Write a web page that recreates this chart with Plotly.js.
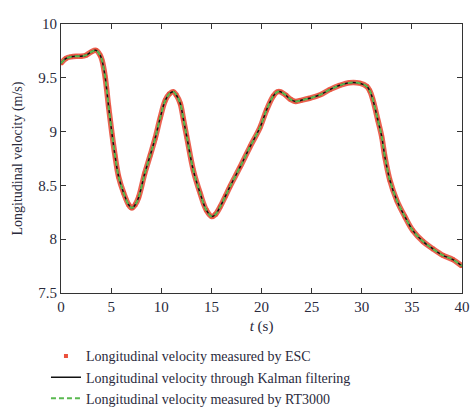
<!DOCTYPE html>
<html>
<head>
<meta charset="utf-8">
<script src="https://cdn.plot.ly/plotly-3.0.1.min.js"></script>
<style>html,body{margin:0;padding:0;background:#fff;}#chart{width:470px;height:408px;}</style>
</head>
<body>
<div id="chart"></div>
<script>
// Time (s)
const timeS = [0, 0.5, 1.0, 1.5, 2.0, 2.5, 3.0, 3.5, 3.9, 4.1, 4.4, 4.75, 5.1, 5.4, 5.75, 6.25, 6.75, 7.07, 7.4, 7.75, 8.35, 8.9, 9.4, 9.9, 10.4, 10.8, 11.2, 11.5, 11.9, 12.2, 12.55, 13.2, 13.87, 14.5, 15.04, 15.4, 15.87, 16.4, 16.86, 17.86, 18.86, 19.86, 20.5, 21.17, 21.6, 21.9, 22.4, 22.9, 23.4, 23.9, 24.8, 25.8, 26.8, 27.8, 28.8, 29.8, 30.5, 30.8, 31.1, 31.6, 32.0, 32.3, 32.8, 33.5, 34.3, 35.1, 36.1, 37.1, 38.1, 39.1, 40];
// Longitudinal velocity measured by ESC (m/s)
const escVel = [9.635, 9.68, 9.695, 9.70, 9.70, 9.71, 9.74, 9.755, 9.71, 9.66, 9.51, 9.23, 8.97, 8.77, 8.58, 8.43, 8.32, 8.29, 8.32, 8.39, 8.61, 8.78, 8.94, 9.13, 9.29, 9.35, 9.37, 9.34, 9.26, 9.12, 8.95, 8.64, 8.43, 8.27, 8.21, 8.23, 8.30, 8.40, 8.49, 8.67, 8.86, 9.04, 9.20, 9.33, 9.37, 9.37, 9.34, 9.30, 9.28, 9.29, 9.31, 9.34, 9.39, 9.43, 9.455, 9.45, 9.42, 9.38, 9.30, 9.11, 8.95, 8.77, 8.55, 8.36, 8.21, 8.08, 7.98, 7.91, 7.85, 7.81, 7.75];
// Longitudinal velocity through Kalman filtering (m/s)
const kalmanVel = [9.635, 9.68, 9.695, 9.70, 9.70, 9.71, 9.74, 9.755, 9.71, 9.66, 9.51, 9.23, 8.97, 8.77, 8.58, 8.43, 8.32, 8.29, 8.32, 8.39, 8.61, 8.78, 8.94, 9.13, 9.29, 9.35, 9.37, 9.34, 9.26, 9.12, 8.95, 8.64, 8.43, 8.27, 8.21, 8.23, 8.30, 8.40, 8.49, 8.67, 8.86, 9.04, 9.20, 9.33, 9.37, 9.37, 9.34, 9.30, 9.28, 9.29, 9.31, 9.34, 9.39, 9.43, 9.455, 9.45, 9.42, 9.38, 9.30, 9.11, 8.95, 8.77, 8.55, 8.36, 8.21, 8.08, 7.98, 7.91, 7.85, 7.81, 7.75];
// Longitudinal velocity measured by RT3000 (m/s)
const rt3000Vel = [9.635, 9.68, 9.695, 9.70, 9.70, 9.71, 9.74, 9.755, 9.71, 9.66, 9.51, 9.23, 8.97, 8.77, 8.58, 8.43, 8.32, 8.29, 8.32, 8.39, 8.61, 8.78, 8.94, 9.13, 9.29, 9.35, 9.37, 9.34, 9.26, 9.12, 8.95, 8.64, 8.43, 8.27, 8.21, 8.23, 8.30, 8.40, 8.49, 8.67, 8.86, 9.04, 9.20, 9.33, 9.37, 9.37, 9.34, 9.30, 9.28, 9.29, 9.31, 9.34, 9.39, 9.43, 9.455, 9.45, 9.42, 9.38, 9.30, 9.11, 8.95, 8.77, 8.55, 8.36, 8.21, 8.08, 7.98, 7.91, 7.85, 7.81, 7.75];

const seriesNames = ['Longitudinal velocity measured by ESC', 'Longitudinal velocity through Kalman filtering', 'Longitudinal velocity measured by RT3000'];
const xTickVals = [0, 5, 10, 15, 20, 25, 30, 35, 40];
const yTickVals = [7.5, 8, 8.5, 9, 9.5, 10];

const serif = 'Liberation Serif, DejaVu Serif, serif';
const txtColor = '#2a2a3c';

const traces = [
  { x: timeS, y: escVel, mode: 'lines', line: {color: 'rgba(232,70,50,0.85)', width: 5.5, shape: 'spline'}, showlegend: false, hoverinfo: 'skip' },
  { x: timeS, y: escVel, mode: 'markers', name: seriesNames[0], marker: {symbol: 'square', size: 4, color: 'rgb(235,80,60)'} },
  { x: timeS, y: kalmanVel, mode: 'lines', name: seriesNames[1], line: {color: '#111', width: 1.5, shape: 'spline'} },
  { x: timeS, y: rt3000Vel, mode: 'lines', name: seriesNames[2], line: {color: 'rgb(90,185,80)', width: 2, dash: '5px,3px', shape: 'spline'} }
];

const axisCommon = {
  showgrid: false, zeroline: false, showline: true, linecolor: '#333', linewidth: 1,
  mirror: 'ticks', ticks: 'inside', ticklen: 5, tickcolor: '#333', tickwidth: 1,
  tickfont: {family: serif, size: 15, color: txtColor}
};

const layout = {
  width: 470, height: 408,
  margin: {l: 61, r: 8, t: 24, b: 115, autoexpand: false},
  paper_bgcolor: '#fff', plot_bgcolor: '#fff',
  xaxis: Object.assign({}, axisCommon, {range: [0, 40], tickvals: xTickVals, ticklabelstandoff: 0,
    title: {text: '<i>t</i> (s)', font: {family: serif, size: 15, color: txtColor}, standoff: 6}}),
  yaxis: Object.assign({}, axisCommon, {range: [7.5, 10], tickvals: yTickVals,
    title: {text: 'Longitudinal velocity (m/s)', font: {family: serif, size: 14, color: txtColor}, standoff: 12}}),
  legend: {x: -0.0375, y: -0.176, xanchor: 'left', yanchor: 'top', orientation: 'v',
    font: {family: serif, size: 14, color: txtColor}, bgcolor: 'rgba(0,0,0,0)', tracegroupgap: 0},
  showlegend: true
};

Plotly.newPlot('chart', traces, layout, {displayModeBar: false, staticPlot: true});
</script>
</body>
</html>
